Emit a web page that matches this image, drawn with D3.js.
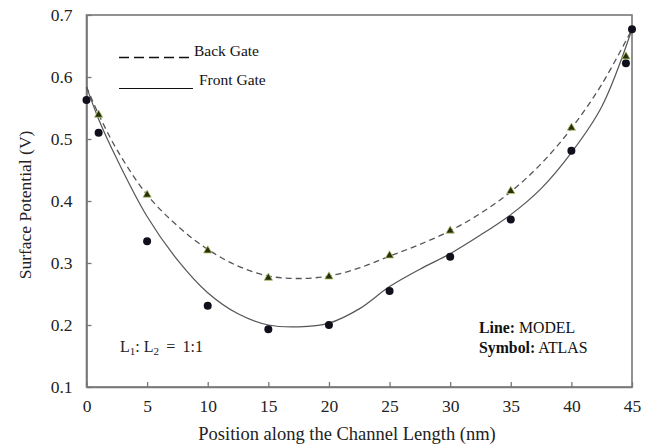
<!DOCTYPE html>
<html>
<head>
<meta charset="utf-8">
<script src="https://cdn.jsdelivr.net/npm/d3@7"></script>
<style>
  html, body { margin: 0; padding: 0; background: #fff; }
  svg { display: block; font-family: "Liberation Serif", "DejaVu Serif", serif; }
</style>
</head>
<body>
<svg id="chart" width="665" height="447"></svg>
<script>
// Tick values
const xTicks = [0, 5, 10, 15, 20, 25, 30, 35, 40, 45];
const yTicks = [0.1, 0.2, 0.3, 0.4, 0.5, 0.6, 0.7];

// Model curves (surface potential vs. position)
const frontModelX = [0, 1, 2.5, 5, 7.5, 10, 12.5, 15, 17.5, 20, 22.5, 25, 27.5, 30, 32.5, 35, 37.5, 40, 42.5, 45];
const frontModelY = [0.584, 0.532, 0.468, 0.375, 0.305, 0.252, 0.218, 0.2, 0.197, 0.203, 0.226, 0.262, 0.29, 0.315, 0.345, 0.378, 0.42, 0.478, 0.552, 0.677];
const backModelX = [0, 1, 2.5, 5, 7.5, 10, 12.5, 15, 17.5, 20, 22.5, 25, 27.5, 30, 32.5, 35, 37.5, 40, 42.5, 45];
const backModelY = [0.584, 0.54, 0.483, 0.41, 0.36, 0.322, 0.295, 0.279, 0.275, 0.279, 0.292, 0.311, 0.33, 0.352, 0.38, 0.415, 0.46, 0.517, 0.588, 0.677];

// Simulation points (ATLAS)
const frontAtlasX = [0, 1, 5, 10, 15, 20, 25, 30, 35, 40, 44.5, 45];
const frontAtlasY = [0.563, 0.51, 0.335, 0.231, 0.193, 0.2, 0.255, 0.31, 0.37, 0.481, 0.622, 0.677];
const backAtlasX = [1, 5, 10, 15, 20, 25, 30, 35, 40, 44.5];
const backAtlasY = [0.539, 0.41, 0.32, 0.276, 0.278, 0.312, 0.352, 0.416, 0.518, 0.633];

const svg = d3.select("#chart");
const margin = { left: 86.5, right: 665 - 632, top: 15, bottom: 447 - 387 };
const W = 665, H = 447;

const x = d3.scaleLinear().domain([0, 45]).range([margin.left, W - margin.right]);
const y = d3.scaleLinear().domain([0.1, 0.7]).range([H - margin.bottom, margin.top]);

const axisColor = "#777";

// Frame
svg.append("rect")
  .attr("x", x(0)).attr("y", y(0.7))
  .attr("width", x(45) - x(0)).attr("height", y(0.1) - y(0.7))
  .attr("fill", "none").attr("stroke", axisColor).attr("stroke-width", 1.6);

// Axes with inward ticks
const xAxis = d3.axisBottom(x).tickValues(xTicks).tickSizeInner(-5).tickSizeOuter(0).tickPadding(13)
  .tickFormat(d3.format("d"));
const yAxis = d3.axisLeft(y).tickValues(yTicks).tickSizeInner(-5).tickSizeOuter(0).tickPadding(14)
  .tickFormat(d3.format(".1f"));

const gx = svg.append("g").attr("transform", `translate(0,${y(0.1)})`).call(xAxis);
const gy = svg.append("g").attr("transform", `translate(${x(0)},0)`).call(yAxis);
[gx, gy].forEach(g => {
  g.select(".domain").attr("stroke", axisColor).attr("stroke-width", 1.6);
  g.selectAll(".tick line").attr("stroke", axisColor).attr("stroke-width", 1.3);
  g.selectAll(".tick text").attr("fill", "#222").style("font-size", "17.5px")
    .style("font-family", "'Liberation Serif', serif");
});

// Axis titles
svg.append("text")
  .attr("x", 347).attr("y", 440)
  .attr("text-anchor", "middle").attr("fill", "#222").style("font-size", "18.5px")
  .text("Position along the Channel Length (nm)");
svg.append("text")
  .attr("transform", `translate(31,205) rotate(-90)`)
  .attr("text-anchor", "middle").attr("fill", "#222").style("font-size", "17.5px")
  .text("Surface Potential (V)");

// Model lines
const line = d3.line().x(d => x(d[0])).y(d => y(d[1])).curve(d3.curveCatmullRom.alpha(0.5));
const backModel = backModelX.map((v, i) => [v, backModelY[i]]);
const frontModel = frontModelX.map((v, i) => [v, frontModelY[i]]);

svg.append("path").datum(backModel).attr("d", line)
  .attr("fill", "none").attr("stroke", "#555").attr("stroke-width", 1.3)
  .attr("stroke-dasharray", "6,4");
svg.append("path").datum(frontModel).attr("d", line)
  .attr("fill", "none").attr("stroke", "#555").attr("stroke-width", 1.2);

// ATLAS symbols
const frontAtlas = frontAtlasX.map((v, i) => [v, frontAtlasY[i]]);
const backAtlas = backAtlasX.map((v, i) => [v, backAtlasY[i]]);

svg.append("g").selectAll("circle").data(frontAtlas).join("circle")
  .attr("cx", d => x(d[0])).attr("cy", d => y(d[1])).attr("r", 4)
  .attr("fill", "#10101c");

const tri = d3.symbol().type(d3.symbolTriangle).size(30);
svg.append("g").selectAll("path").data(backAtlas).join("path")
  .attr("d", tri)
  .attr("transform", d => `translate(${x(d[0])},${y(d[1])})`)
  .attr("fill", "#26300c").attr("stroke", "#b8c870").attr("stroke-width", 0.8);

// Legend
const legend = svg.append("g");
legend.append("line").attr("x1", 119).attr("x2", 192).attr("y1", 57.5).attr("y2", 57.5)
  .attr("stroke", "#111").attr("stroke-width", 1.6).attr("stroke-dasharray", "10,5");
legend.append("text").attr("x", 194).attr("y", 56).attr("fill", "#111")
  .style("font-size", "15.5px").text("Back Gate");
legend.append("line").attr("x1", 119).attr("x2", 193).attr("y1", 88.5).attr("y2", 88.5)
  .attr("stroke", "#111").attr("stroke-width", 1.2);
legend.append("text").attr("x", 199).attr("y", 85).attr("fill", "#111")
  .style("font-size", "15.5px").text("Front Gate");

// Length ratio note
const ratio = svg.append("text").attr("x", 120).attr("y", 352).attr("fill", "#222")
  .style("font-size", "16px");
ratio.append("tspan").text("L");
ratio.append("tspan").attr("baseline-shift", "-25%").style("font-size", "11px").text("1");
ratio.append("tspan").text(": L");
ratio.append("tspan").attr("baseline-shift", "-25%").style("font-size", "11px").text("2");
ratio.append("tspan").text("\u2009 = \u20091:1");

// Line / symbol key
const key1 = svg.append("text").attr("x", 479).attr("y", 333).attr("fill", "#111").style("font-size", "15.8px");
key1.append("tspan").style("font-weight", "bold").text("Line:");
key1.append("tspan").text(" MODEL");
const key2 = svg.append("text").attr("x", 479).attr("y", 353).attr("fill", "#111").style("font-size", "15.8px");
key2.append("tspan").style("font-weight", "bold").text("Symbol:");
key2.append("tspan").text(" ATLAS");
</script>
</body>
</html>
